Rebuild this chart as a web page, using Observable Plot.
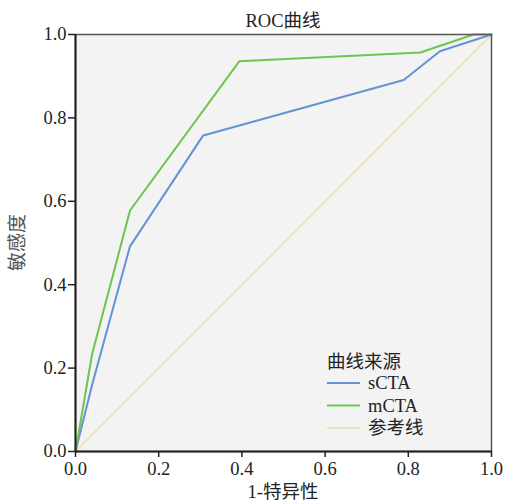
<!DOCTYPE html>
<html><head><meta charset="utf-8">
<script src="https://cdn.jsdelivr.net/npm/d3@7"></script>
<script src="https://cdn.jsdelivr.net/npm/@observablehq/plot@0.6"></script>
<style>
body{margin:0;background:#fff;}
svg, svg text{font-family:"Liberation Serif","Times New Roman","DejaVu Serif","Noto Sans CJK SC",serif !important;}
</style>
</head><body>
<div id="chart"></div>
<script>
const seriesNames = ["sCTA", "mCTA", "参考线"];
const seriesColors = ["#6592d4", "#6cc54e", "#ebe6bf"];
const sCTA_x = [0, 0.04, 0.131, 0.307, 0.789, 0.876, 1];
const sCTA_y = [0, 0.16, 0.492, 0.758, 0.891, 0.960, 1];
const mCTA_x = [0, 0.040, 0.131, 0.394, 0.829, 0.957, 1];
const mCTA_y = [0, 0.234, 0.578, 0.936, 0.957, 1.0, 1];
const ref_x = [0, 1];
const ref_y = [0, 1];
const ticks = [0, 0.2, 0.4, 0.6, 0.8, 1.0];

const toRows = (xs, ys, s) => xs.map((x, i) => ({x, y: ys[i], s}));
const rows = [
  ...toRows(ref_x, ref_y, "参考线"),
  ...toRows(sCTA_x, sCTA_y, "sCTA"),
  ...toRows(mCTA_x, mCTA_y, "mCTA")
];

const FF = '"Liberation Serif","Times New Roman","DejaVu Serif","Noto Sans CJK SC",serif';
const W = 506, H = 502, ML = 75, MR = 15, MT = 34, MB = 51;
const FS = 18.5;
const plot = Plot.plot({
  width: W, height: H,
  marginLeft: ML, marginRight: MR, marginTop: MT, marginBottom: MB,
  style: {fontFamily: FF, fontSize: FS + "px", color: "#222", background: "#fff"},
  x: {domain: [0, 1], label: null},
  y: {domain: [0, 1], label: null},
  color: {domain: seriesNames, range: seriesColors},
  marks: [
    Plot.frame({fill: "#f3f3f3", stroke: "none"}),
    Plot.line(rows, {x: "x", y: "y", z: "s", stroke: "s", strokeWidth: 2, curve: "linear"}),
    Plot.frame({stroke: "#555", strokeWidth: 1.5}),
    Plot.ruleX([0], {stroke: "#222", strokeWidth: 2}),
    Plot.ruleY([0], {stroke: "#222", strokeWidth: 2}),
    Plot.axisX({ticks: ticks, tickFormat: d3.format(".1f"), tickSize: 6, tickPadding: 4, fontSize: FS, fontFamily: FF, fontVariant: "normal", stroke: "#222", strokeWidth: 1.5, label: null}),
    Plot.axisY({ticks: ticks, tickFormat: d3.format(".1f"), tickSize: 7, tickPadding: 2, fontSize: FS, fontFamily: FF, fontVariant: "normal", stroke: "#222", strokeWidth: 1.5, label: null})
  ]
});
document.getElementById("chart").appendChild(plot);

const svg = d3.select(plot);
const cx = ML + (W - ML - MR) / 2;
svg.append("text").attr("x", cx).attr("y", 27).attr("text-anchor", "middle").attr("font-family", FF)
  .attr("font-size", 18.5).attr("fill", "#222").text("ROC曲线");
svg.append("text").attr("x", cx).attr("y", 498).attr("text-anchor", "middle").attr("font-family", FF)
  .attr("font-size", 18.5).attr("fill", "#222").text("1-特异性");
svg.append("text").attr("transform", `translate(24,${MT + (H - MT - MB) / 2}) rotate(-90)`).attr("font-family", FF)
  .attr("text-anchor", "middle").attr("font-size", 19).attr("fill", "#555").text("敏感度");

// legend
const lg = svg.append("g").attr("transform", "translate(326,352)").attr("text-anchor", "start").attr("font-family", FF);
lg.append("text").attr("x", 1).attr("y", 16).attr("text-anchor", "start").attr("font-size", 18.5).attr("fill", "#222").text("曲线来源");
seriesNames.forEach((name, i) => {
  const yy = 31 + i * 22.5;
  lg.append("line").attr("x1", 1).attr("x2", 34).attr("y1", yy).attr("y2", yy)
    .attr("stroke", seriesColors[i]).attr("stroke-width", 2);
  lg.append("text").attr("x", 42).attr("y", yy + 6).attr("text-anchor", "start").attr("font-size", 18.5).attr("fill", "#222").text(name);
});
</script>
</body></html>
